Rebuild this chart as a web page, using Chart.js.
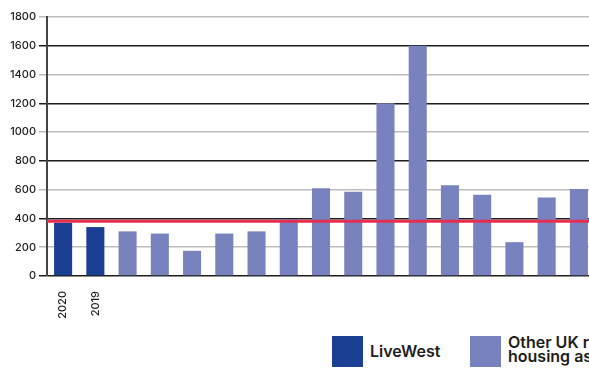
<!DOCTYPE html>
<html>
<head>
<meta charset="utf-8">
<script src="https://cdn.jsdelivr.net/npm/chart.js@4.4.1/dist/chart.umd.min.js"></script>
<style>
  html, body { margin: 0; padding: 0; background: #fff; overflow: hidden; }
  #wrap { position: relative; width: 589px; height: 369px; overflow: hidden; }
  #box { position: absolute; left: 0; top: 0; width: 600px; height: 330px; }
  .leg { position: absolute; font-family: Inter, "Open Sans", sans-serif; font-weight: 600; color: #1d1d1b; white-space: nowrap; }
  .sw { position: absolute; width: 31px; height: 31px; }
</style>
</head>
<body>
<div id="wrap">
  <div id="box"><canvas id="myChart"></canvas></div>
  <div class="sw" style="left:332px;top:336px;background:#1a3f93"></div>
  <div class="leg" style="left:370px;top:341px;font-size:16px;">LiveWest</div>
  <div class="sw" style="left:470px;top:336px;background:#7882be"></div>
  <div class="leg" style="left:508px;top:335px;font-size:16px;line-height:14px;">Other UK registered<br>housing associations</div>
</div>
<script>
// rent per week, one bar per housing association
var labels = ['2020', '2019', '', '', '', '', '', '', '', '', '', '', '', '', '', '', ''];
var liveWest = [370, 340, null, null, null, null, null, null, null, null, null, null, null, null, null, null, null];
var others = [null, null, 310, 295, 175, 295, 310, 395, 610, 585, 1200, 1600, 630, 565, 235, 545, 605];
var average = 380;
var yTicks = [0, 200, 400, 600, 800, 1000, 1200, 1400, 1600, 1800];

// red average line, drawn on top of the bars
var averageLine = {
  id: 'averageLine',
  afterDatasetsDraw: function(chart) {
    var ctx = chart.ctx;
    var area = chart.chartArea;
    var y = chart.scales.y.getPixelForValue(average);
    ctx.save();
    ctx.strokeStyle = '#e62e50';
    ctx.lineWidth = 3;
    ctx.beginPath();
    ctx.moveTo(area.left, y);
    ctx.lineTo(area.right, y);
    ctx.stroke();
    ctx.restore();
  }
};

var ctx = document.getElementById('myChart').getContext('2d');
var myChart = new Chart(ctx, {
  type: 'bar',
  data: {
    labels: labels,
    datasets: [{
      label: 'LiveWest',
      data: liveWest,
      backgroundColor: '#1a3f93'
    }, {
      label: 'Other UK registered housing associations',
      data: others,
      backgroundColor: '#7882be'
    }]
  },
  options: {
    responsive: true,
    maintainAspectRatio: false,
    animation: false,
    layout: { padding: { top: 17, right: 5, left: 0, bottom: 0 } },
    plugins: {
      legend: { display: false },
      tooltip: { enabled: false }
    },
    datasets: {
      bar: { categoryPercentage: 1, barPercentage: 0.56 }
    },
    scales: {
      x: {
        stacked: true,
        grid: { display: false },
        border: { display: false },
        ticks: {
          autoSkip: false,
          minRotation: 90,
          maxRotation: 90,
          padding: 7,
          color: '#1d1d1b',
          font: { family: 'Inter', size: 11, weight: '500' }
        },
        afterFit: function(scale) { scale.height = 54; }
      },
      y: {
        min: 0,
        max: 1800,
        afterBuildTicks: function(scale) {
          scale.ticks = yTicks.map(function(v) { return { value: v }; });
        },
        grid: {
          color: function(c) { return c.tick && c.tick.value % 400 === 0 ? '#1d1d1b' : '#bdbdbd'; },
          lineWidth: 1.5,
          tickLength: 8
        },
        border: { color: '#444', width: 2 },
        ticks: {
          padding: 3,
          color: '#1d1d1b',
          font: { family: 'Inter', size: 11, weight: '500' },
          callback: function(v) { return String(v); }
        },
        afterFit: function(scale) { scale.width = 47; }
      }
    }
  },
  plugins: [averageLine]
});
</script>
</body>
</html>
